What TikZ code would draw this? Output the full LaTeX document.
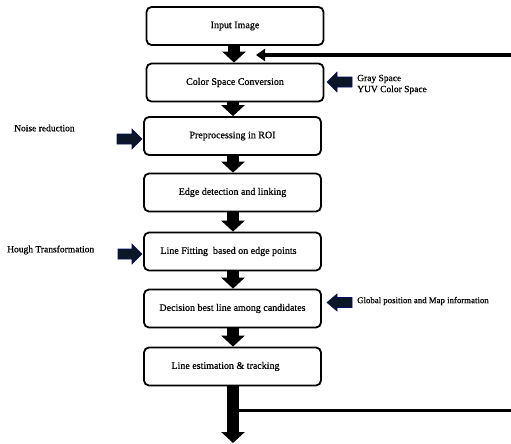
\documentclass[tikz,border=0pt]{standalone}
\usepackage{fontspec}
\setmainfont{Liberation Serif}[FakeBold=0.6]
\usetikzlibrary{arrows.meta}
\definecolor{navy}{HTML}{0B1626}
\tikzset{
  stepbox/.style={draw, line width=1.8pt, rounded corners=5pt, minimum width=177pt, minimum height=38pt, inner sep=0pt, font=\fontsize{10}{12}\selectfont},
  fatdown/.style={line width=12pt, -{Triangle[length=11pt,width=23pt]}},
  sidearrow/.style={fill=navy, draw=navy!70!blue, line width=0.6pt},
  sidetext/.style={anchor=west, inner sep=0pt, font=\fontsize{9.5}{11}\selectfont, align=left},
  fbline/.style={line width=3.2pt}
}
\begin{document}
\begin{tikzpicture}[x=1pt,y=-1pt]
\useasboundingbox (0,0) rectangle (511,444);
% boxes
\node[stepbox] (b1) at (235,26) {Input Image};
\node[stepbox] (b2) at (235,82.5) {Color Space Conversion};
\node[stepbox] (b3) at (232.5,136) {Preprocessing in ROI};
\node[stepbox] (b4) at (232.5,192.5) {Edge detection and linking};
\node[stepbox] (b5) at (232.5,251.5) {\hspace*{-8pt}Line Fitting~ based on edge points};
\node[stepbox] (b6) at (232.5,308.5) {Decision best line among candidates};
\node[stepbox] (b7) at (232.5,366.5) {\hspace*{-14pt}Line estimation \& tracking};
% down arrows
\draw[fatdown] (b1.south -| 234,0) -- (b2.north -| 234,0);
\draw[fatdown] (b2.south -| 233,0) -- (b3.north -| 233,0);
\draw[fatdown] (b3.south -| 233,0) -- (b4.north -| 233,0);
\draw[fatdown] (b4.south -| 233,0) -- (b5.north -| 233,0);
\draw[fatdown] (b5.south -| 233,0) -- (b6.north -| 233,0);
\draw[fatdown] (b6.south -| 233,0) -- (b7.north -| 233,0);
\coordinate (out) at (233,443);
\draw[fatdown] (b7.south -| 233,0) -- (out);
% feedback
\coordinate (fbs) at (239,410.5);
\coordinate (fbr) at (514,410.5);
\coordinate (fbt) at (514,55);
\coordinate (fbe) at (256,55);
\draw[fbline] (fbs) -- (fbr);
\draw[fbline, -{Triangle[length=9pt,width=12pt]}] (fbt) -- (fbe);
% side arrows and texts
\path[sidearrow] (327,82) -- (337,72) -- (337,77) -- (352,77) -- (352,87) -- (337,87) -- (337,92) -- cycle;
\node[sidetext] (gs) at (357,84.5) {Gray Space\\YUV Color Space};
\path[sidearrow] (142,139) -- (132,129) -- (132,134) -- (117,134) -- (117,144) -- (132,144) -- (132,149) -- cycle;
\node[sidetext] (nr) at (14,128) {Noise reduction};
\path[sidearrow] (142,254) -- (132,244) -- (132,249) -- (118,249) -- (118,259) -- (132,259) -- (132,264) -- cycle;
\node[sidetext] (ht) at (7,250) {Hough Transformation};
\path[sidearrow] (327,302.5) -- (337,294) -- (337,297.5) -- (352,297.5) -- (352,307.5) -- (337,307.5) -- (337,311) -- cycle;
\node[sidetext, font=\fontsize{8.8}{10}\selectfont] (gp) at (357,301) {Global position and Map information};
\end{tikzpicture}
\end{document}
